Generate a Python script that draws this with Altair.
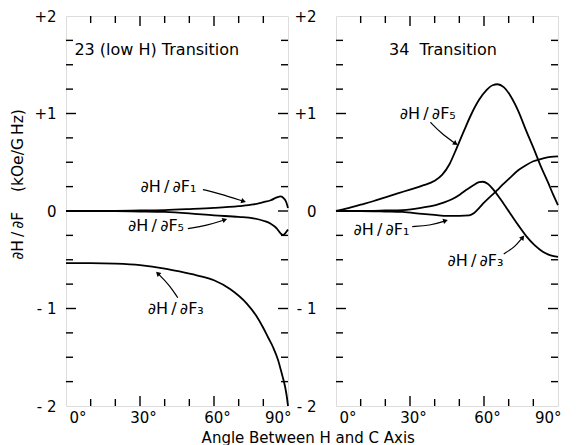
import math
import altair as alt
import pandas as pd

# ---------------- data ----------------
# Left panel: 23 (low H) transition
f1L_ang = [0, 10, 20, 30, 40, 50, 60, 70, 76, 80, 83, 85.5, 87, 88.3, 89.3, 90]
f1L_val = [0, 0, 0.002, 0.005, 0.01, 0.02, 0.032, 0.05, 0.067, 0.09, 0.11, 0.14, 0.15, 0.13, 0.09, 0.03]
f5L_ang = [0, 10, 20, 30, 40, 50, 60, 70, 76, 80, 83, 85.5, 87, 88, 89, 90]
f5L_val = [0, 0, -0.002, -0.005, -0.01, -0.025, -0.045, -0.06, -0.075, -0.1, -0.13, -0.18, -0.23, -0.245, -0.225, -0.19]
f3L_ang = [0, 10, 20, 30, 40, 46, 53, 60, 66.5, 73.3, 77, 80, 82, 84, 86, 87.5, 88.8, 89.5, 90]
f3L_val = [-0.535, -0.535, -0.54, -0.555, -0.59, -0.62, -0.66, -0.71, -0.80, -0.95, -1.07, -1.20,
           -1.30, -1.40, -1.53, -1.67, -1.80, -1.90, -2.0]

# Right panel: 34 transition
f5R_ang = [0, 5, 10, 15, 20, 25, 30, 35, 40, 43, 46, 49, 52, 55, 58, 61, 63.5, 65.5, 68, 71, 74, 77, 80, 83, 86, 88, 90]
f5R_val = [0, 0.03, 0.065, 0.1, 0.14, 0.18, 0.22, 0.26, 0.31, 0.37, 0.48, 0.65, 0.83, 1.0, 1.14, 1.24, 1.29,
           1.30, 1.27, 1.17, 1.02, 0.83, 0.65, 0.46, 0.29, 0.17, 0.06]
f1R_ang = [0, 10, 20, 27, 35, 40, 45, 50, 54, 56, 58, 60, 62, 64, 66, 68, 70.5, 74, 77, 80, 84, 87, 90]
f1R_val = [0, 0, -0.005, -0.01, -0.03, -0.04, -0.05, -0.05, -0.045, -0.02, 0.03, 0.085, 0.135, 0.18, 0.23,
           0.28, 0.34, 0.42, 0.47, 0.51, 0.54, 0.555, 0.56]
f3R_ang = [0, 10, 20, 27, 35, 40.4, 43.6, 47, 50.3, 53, 55.7, 58, 59.5, 61.5, 63.8, 67, 70.5, 74, 77.2, 80.5, 84, 87, 90]
f3R_val = [0, 0, 0.005, 0.01, 0.035, 0.06, 0.085, 0.12, 0.17, 0.22, 0.265, 0.295, 0.30, 0.28, 0.22, 0.11,
           -0.02, -0.15, -0.26, -0.35, -0.42, -0.455, -0.47]

TS = "\u2009"  # thin space
# curve labels: text, angle, value
labL_text = ["∂H" + TS + "/" + TS + "∂F₁", "∂H" + TS + "/" + TS + "∂F₅", "∂H" + TS + "/" + TS + "∂F₃"]
labL_ang = [41.5, 36.5, 44.5]
labL_val = [0.25, -0.15, -1.01]
labR_text = ["∂H" + TS + "/" + TS + "∂F₅", "∂H" + TS + "/" + TS + "∂F₁", "∂H" + TS + "/" + TS + "∂F₃"]
labR_ang = [37.2, 18.4, 56.5]
labR_val = [0.99, -0.19, -0.51]

# arrows: start, middle, end (angle, value)
arrL_ang = [[55.5, 62.0, 72.0], [49.4, 57.0, 64.4], [45.3, 42.0, 37.2]]
arrL_val = [[0.22, 0.18, 0.10], [-0.18, -0.15, -0.09], [-0.89, -0.76, -0.64]]
arrR_ang = [[38.3, 42.5, 48.5], [30.9, 38.0, 44.4], [68.0, 72.5, 75.7]]
arrR_val = [[0.91, 0.80, 0.69], [-0.16, -0.15, -0.10], [-0.44, -0.37, -0.27]]

panel_titles = ["23 (low H) Transition", "34\u00a0\u00a0Transition"]
title_ang = [3.4, 21.5]
title_val = [1.65, 1.65]

y_title = "∂H" + TS + "/" + TS + "∂F\u00a0\u00a0\u00a0\u00a0(kOe/G" + TS + "Hz)"

y_axis_vals = [-2, -1, 0, 1, 2]
x_axis_vals = [0, 30, 60, 90]
y_tick_vals = [v / 4 for v in range(-7, 8)]
x_tick_vals = [10, 20, 30, 40, 50, 60, 70, 80]

W, H = 222, 390
FONT = "DejaVu Sans"
PX_X = W / 90.0
PX_Y = H / 4.0

xs = alt.Scale(domain=[0, 90], nice=False, zero=False)
ys = alt.Scale(domain=[-2, 2], nice=False, zero=False)


def panel(curves, lab_text, lab_ang, lab_val, arr_ang, arr_val, title, tang, tval, ytitle, lpad):
    rows = []
    for name, a, v in curves:
        for i, (aa, vv) in enumerate(zip(a, v)):
            rows.append({"series": name, "angle": aa, "value": vv, "i": i})
    cdf = pd.DataFrame(rows)

    yax = dict(values=y_axis_vals,
               labelExpr="datum.value > 0 ? '+' + datum.value : (datum.value < 0 ? '- ' + abs(datum.value) : '0')",
               ticks=False, domain=False, grid=False, labelFontSize=15, labelFont=FONT,
               labelColor="black", labelPadding=lpad)
    if ytitle:
        yax.update(title=ytitle, titleFont=FONT, titleFontSize=15.5, titleFontWeight="normal",
                   titleColor="black", titlePadding=8, titleY=168)
    else:
        yax.update(title=None)
    yaxis = alt.Axis(**yax)
    xaxis = alt.Axis(values=x_axis_vals, labelExpr="datum.value + '°'", ticks=False, domain=False,
                     grid=False, labelFontSize=15, labelFont=FONT, labelColor="black",
                     labelPadding=4, labelOffset=3, title=None)

    lines = alt.Chart(cdf).mark_line(color="black", strokeWidth=1.8, interpolate="monotone").encode(
        x=alt.X("angle:Q", scale=xs, axis=xaxis),
        y=alt.Y("value:Q", scale=ys, axis=yaxis),
        detail="series:N",
        order="i:Q",
    )

    ldf = pd.DataFrame({"t": lab_text, "angle": lab_ang, "value": lab_val})
    labels = alt.Chart(ldf).mark_text(font=FONT, fontSize=16, color="black").encode(
        x=alt.X("angle:Q", scale=xs), y=alt.Y("value:Q", scale=ys), text="t:N")

    tdf = pd.DataFrame({"t": [title], "angle": [tang], "value": [tval]})
    ttl = alt.Chart(tdf).mark_text(font=FONT, fontSize=16, color="black", align="left").encode(
        x=alt.X("angle:Q", scale=xs), y=alt.Y("value:Q", scale=ys), text="t:N")

    arows, heads = [], []
    for k, (aa, vv) in enumerate(zip(arr_ang, arr_val)):
        for i, (a1, v1) in enumerate(zip(aa, vv)):
            arows.append({"k": k, "i": i, "angle": a1, "value": v1})
        dx = (aa[-1] - aa[-2]) * PX_X
        dy = -(vv[-1] - vv[-2]) * PX_Y
        rot = math.degrees(math.atan2(dx, -dy)) % 360
        heads.append({"angle": aa[-1], "value": vv[-1], "rot": rot})
    arr = alt.Chart(pd.DataFrame(arows)).mark_line(color="black", strokeWidth=1.2, interpolate="basis").encode(
        x=alt.X("angle:Q", scale=xs), y=alt.Y("value:Q", scale=ys), detail="k:N", order="i:Q")
    hd = alt.Chart(pd.DataFrame(heads)).mark_point(shape="triangle-up", filled=True, color="black",
                                                     size=30, opacity=1).encode(
        x=alt.X("angle:Q", scale=xs), y=alt.Y("value:Q", scale=ys),
        angle=alt.Angle("rot:Q", scale=None))

    ydf = pd.DataFrame({"v": y_tick_vals, "major": [float(v).is_integer() for v in y_tick_vals]})
    xdf = pd.DataFrame({"v": x_tick_vals, "major": [v % 30 == 0 for v in x_tick_vals]})
    tick_layers = []
    for maj, ln in [(True, 10), (False, 7)]:
        yb = alt.Chart(ydf).transform_filter(alt.datum.major == maj).mark_rule(color="black", strokeWidth=1.4)
        tick_layers.append(yb.encode(y=alt.Y("v:Q", scale=ys), x=alt.value(0), x2=alt.value(ln)))
        tick_layers.append(yb.encode(y=alt.Y("v:Q", scale=ys), x=alt.value(W), x2=alt.value(W - ln)))
        xb = alt.Chart(xdf).transform_filter(alt.datum.major == maj).mark_rule(color="black", strokeWidth=1.4)
        tick_layers.append(xb.encode(x=alt.X("v:Q", scale=xs), y=alt.value(H), y2=alt.value(H - ln)))
        tick_layers.append(xb.encode(x=alt.X("v:Q", scale=xs), y=alt.value(0), y2=alt.value(ln)))

    return alt.layer(lines, *tick_layers, arr, hd, labels, ttl).properties(width=W, height=H)


left = panel([("F1", f1L_ang, f1L_val), ("F5", f5L_ang, f5L_val), ("F3", f3L_ang, f3L_val)],
             labL_text, labL_ang, labL_val, arrL_ang, arrL_val,
             panel_titles[0], title_ang[0], title_val[0], y_title, 10)
right = panel([("F5", f5R_ang, f5R_val), ("F1", f1R_ang, f1R_val), ("F3", f3R_ang, f3R_val)],
              labR_text, labR_ang, labR_val, arrR_ang, arrR_val,
              panel_titles[1], title_ang[1], title_val[1], None, 20)

chart = alt.hconcat(left, right, spacing=48, bounds="flush").properties(
    title=alt.TitleParams("Angle Between H and C Axis", orient="bottom", anchor="middle",
                          font=FONT, fontSize=15, fontWeight="normal", color="black", offset=5, dx=22),
    padding={"left": 2, "top": 0, "right": 2, "bottom": 2},
).configure_view(stroke="black", strokeWidth=1.8).configure(background="white")

chart.save("out.html", embed_options={"renderer": "svg", "actions": False})
